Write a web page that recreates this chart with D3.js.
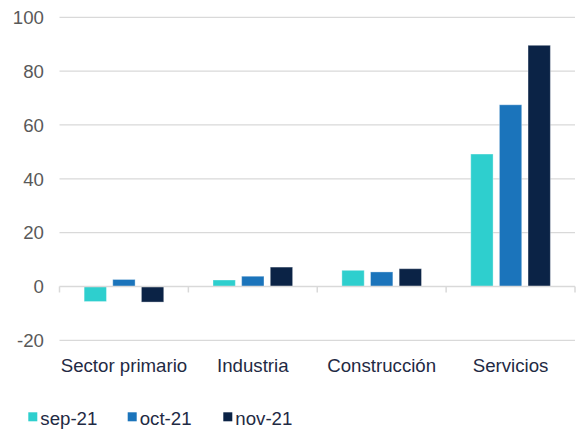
<!DOCTYPE html>
<html>
<head>
<meta charset="utf-8">
<script src="https://cdn.jsdelivr.net/npm/d3@7"></script>
<style>
  html, body { margin: 0; padding: 0; background: #ffffff; }
  svg { display: block; font-family: "Liberation Sans", Arial, sans-serif; }
</style>
</head>
<body>
<svg id="chart" width="576" height="429"></svg>
<script>
const categories = ["Sector primario", "Industria", "Construcción", "Servicios"];
const seriesNames = ["sep-21", "oct-21", "nov-21"];
const sepValues = [-5.6, 2.4, 6.0, 49.2];
const octValues = [2.6, 3.8, 5.4, 67.5];
const novValues = [-5.8, 7.2, 6.6, 89.6];
const seriesColors = ["#2ECFCE", "#1B74BB", "#0B2346"];
const yTicks = [-20, 0, 20, 40, 60, 80, 100];

const seriesValues = [sepValues, octValues, novValues];
const svg = d3.select("#chart");

const x0 = d3.scaleBand().domain(categories).range([59.5, 575]).paddingInner(0).paddingOuter(0);
const x1 = d3.scaleBand().domain(seriesNames).range([0, x0.bandwidth()]).paddingInner(0.22).paddingOuter(0.86);
const y = d3.scaleLinear().domain([-20, 100]).range([340.3, 17.3]);

// gridlines
svg.append("g").selectAll("line").data(yTicks.filter(d => d !== 0)).join("line")
  .attr("x1", 59.5).attr("x2", 575)
  .attr("y1", d => y(d)).attr("y2", d => y(d))
  .attr("stroke", "#d9d9d9").attr("stroke-width", 1.3);

// y tick labels
svg.append("g").selectAll("text").data(yTicks).join("text")
  .attr("x", 44).attr("y", d => y(d)).attr("dy", "0.36em")
  .attr("text-anchor", "end")
  .attr("font-size", "18.67px").attr("fill", "#595959")
  .text(d => d);

// bars
const groups = svg.append("g").selectAll("g").data(categories).join("g")
  .attr("transform", c => `translate(${x0(c)},0)`);
groups.selectAll("rect").data((c, i) => seriesNames.map((s, j) => ({ s, v: seriesValues[j][i], j })))
  .join("rect")
  .attr("x", d => x1(d.s))
  .attr("width", x1.bandwidth())
  .attr("y", d => Math.min(y(d.v), y(0)))
  .attr("height", d => Math.abs(y(d.v) - y(0)))
  .attr("fill", d => seriesColors[d.j])
  .attr("stroke", "#ffffff").attr("stroke-opacity", 0.35).attr("stroke-width", 1);

// zero axis with category ticks
const axis = svg.append("g");
axis.append("line")
  .attr("x1", 59.5).attr("x2", 575)
  .attr("y1", y(0)).attr("y2", y(0))
  .attr("stroke", "#d9d9d9").attr("stroke-width", 1.5);
const boundaries = categories.map(c => x0(c)).concat([x0(categories[categories.length - 1]) + x0.bandwidth()]);
axis.selectAll("line.tick").data(boundaries).join("line").attr("class", "tick")
  .attr("x1", d => d).attr("x2", d => d)
  .attr("y1", y(0)).attr("y2", y(0) + 6)
  .attr("stroke", "#d9d9d9").attr("stroke-width", 1.5);

// category labels
svg.append("g").selectAll("text").data(categories).join("text")
  .attr("x", c => x0(c) + x0.bandwidth() / 2).attr("y", 371.7)
  .attr("text-anchor", "middle")
  .attr("font-size", "18.67px").attr("fill", "#1F2A44")
  .text(c => c);

// legend
const legendX = [28.3, 127.7, 223.3];
const legend = svg.append("g").selectAll("g").data(seriesNames).join("g")
  .attr("transform", (d, i) => `translate(${legendX[i]},0)`);
legend.append("rect").attr("x", 0).attr("y", 412.3).attr("width", 9).attr("height", 9)
  .attr("fill", (d, i) => seriesColors[i]);
legend.append("text").attr("x", 12).attr("y", 424.5)
  .attr("font-size", "18.67px").attr("fill", "#1F2A44")
  .text(d => d);
</script>
</body>
</html>
